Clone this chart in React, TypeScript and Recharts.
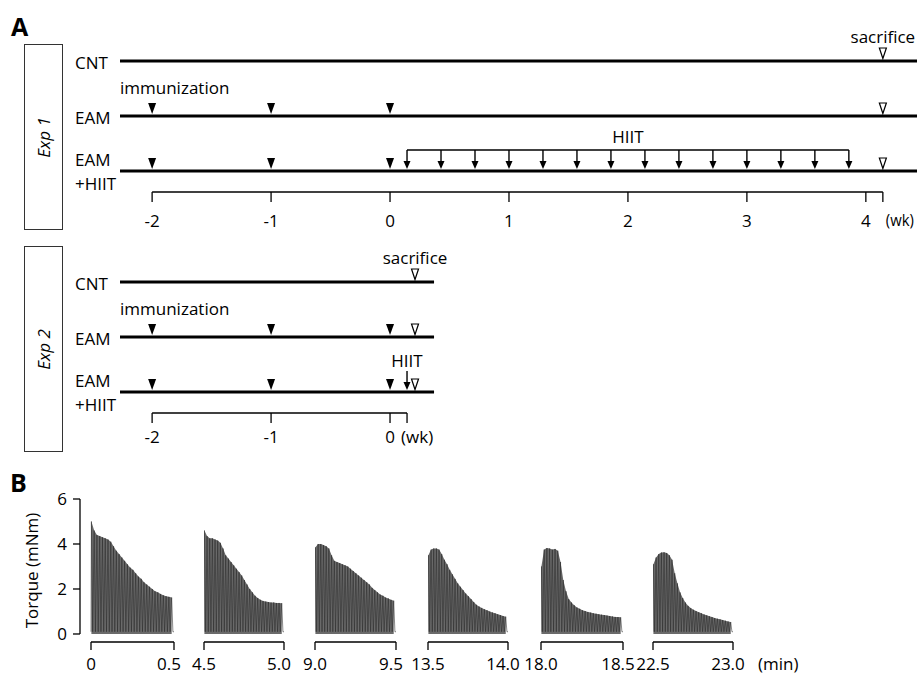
import {
  ComposedChart,
  XAxis,
  YAxis,
  Scatter,
  ReferenceLine,
  ReferenceDot,
  Area,
  Line,
} from "recharts";

const FONT = '"Open Sans", "DejaVu Sans", sans-serif';

// ---------- Panel A: protocol timelines (weeks from 3rd immunization) ----------
const rowLevels = [3, 2, 1];
const rowNames = ["CNT", "EAM", "EAM|+HIIT"];
const immunizationWeeks = [-2, -1, 0];
const immunizedRows = [2, 1];
const exp1HiitDays = [1, 3, 5, 7, 9, 11, 13, 15, 17, 19, 21, 23, 25, 27];
const exp2HiitDays = [1];
const exp1Sacrifice = 4.143;
const exp2Sacrifice = 0.21;
const exp1WeekTicks = [-2, -1, 0, 1, 2, 3, 4];
const exp2WeekTicks = [-2, -1, 0];
const exp1AxisEnd = 4.143;
const exp2AxisEnd = 0.143;
const timelineStart = -2.27;
const exp1TimelineEnd = 4.43;
const exp2TimelineEnd = 0.37;

// ---------- Panel B: torque traces, peak torque of each contraction ----------
const segmentStarts = [0, 4.5, 9.0, 13.5, 18.0, 22.5];
const torquePeaks0 = [5.0, 4.6, 4.4, 4.35, 4.3, 4.25, 4.2, 4.1, 3.9, 3.7, 3.55, 3.4, 3.25, 3.1, 2.95, 2.85, 2.7, 2.55, 2.45, 2.3, 2.2, 2.1, 2.0, 1.9, 1.85, 1.78, 1.72, 1.68, 1.65, 1.62];
const torquePeaks45 = [4.6, 4.35, 4.25, 4.25, 4.2, 4.15, 4.05, 3.8, 3.5, 3.35, 3.2, 3.05, 2.9, 2.75, 2.6, 2.4, 2.2, 2.0, 1.85, 1.7, 1.6, 1.52, 1.47, 1.44, 1.42, 1.4, 1.4, 1.38, 1.38, 1.37];
const torquePeaks90 = [3.85, 4.0, 4.0, 3.95, 3.9, 3.8, 3.5, 3.25, 3.2, 3.15, 3.1, 3.05, 3.0, 2.9, 2.8, 2.7, 2.6, 2.5, 2.4, 2.3, 2.2, 2.05, 1.95, 1.85, 1.75, 1.7, 1.62, 1.58, 1.52, 1.48];
const torquePeaks135 = [3.5, 3.75, 3.8, 3.8, 3.75, 3.55, 3.3, 3.1, 2.85, 2.65, 2.45, 2.25, 2.1, 1.95, 1.8, 1.68, 1.55, 1.42, 1.3, 1.22, 1.16, 1.1, 1.05, 1.0, 0.96, 0.92, 0.88, 0.84, 0.8, 0.77];
const torquePeaks180 = [3.0, 3.75, 3.82, 3.8, 3.75, 3.78, 3.7, 3.2, 2.4, 1.9, 1.55, 1.4, 1.28, 1.18, 1.12, 1.06, 1.02, 0.98, 0.95, 0.92, 0.9, 0.88, 0.86, 0.84, 0.82, 0.8, 0.78, 0.76, 0.75, 0.74];
const torquePeaks225 = [3.1, 3.4, 3.55, 3.62, 3.63, 3.6, 3.5, 3.3, 2.7, 2.25, 1.85, 1.6, 1.4, 1.25, 1.15, 1.08, 1.02, 0.97, 0.92, 0.87, 0.83, 0.79, 0.75, 0.71, 0.68, 0.65, 0.62, 0.59, 0.56, 0.53];
const torqueSegments = [torquePeaks0, torquePeaks45, torquePeaks90, torquePeaks135, torquePeaks180, torquePeaks225];
const troughTorque = 0.1;
const torqueTicks = [0, 2, 4, 6];

// layout of the six trace windows (px)
const segmentLeft = [91, 204, 315, 428, 541, 653];
const segmentWidth = [83, 80, 81, 80, 82, 80];
const labelShiftStart = [0, -13, -6, 0, 5, 10];
const labelShiftEnd = [-9, -5, -10, -3, 0, -1];
const yAxisGap = 11;
const Y_MIN = -0.356;

const FilledTriangle = ({ cx, cy }: any) => (
  <polygon points={`${cx - 4},${cy - 13} ${cx + 4},${cy - 13} ${cx},${cy - 2}`} fill="#000" />
);

const OpenTriangle = ({ cx, cy }: any) => (
  <polygon
    points={`${cx - 3.5},${cy - 13} ${cx + 3.5},${cy - 13} ${cx},${cy - 2.5}`}
    fill="#fff"
    stroke="#000"
    strokeWidth={1.2}
  />
);

const DownArrow = ({ cx, cy }: any) => (
  <g>
    <line x1={cx} x2={cx} y1={cy - 21} y2={cy - 9} stroke="#000" strokeWidth={1.4} />
    <polygon points={`${cx - 3.5},${cy - 10} ${cx + 3.5},${cy - 10} ${cx},${cy - 2}`} fill="#000" />
  </g>
);

const RowTick = (props: any) => {
  const { x, y, payload } = props;
  const name = rowNames[rowLevels.indexOf(payload.value)] || "";
  const lines = name.split("|");
  const style = { fontSize: 17, fontFamily: FONT, fill: "#000" };
  if (lines.length === 1) {
    return (
      <text x={x - 45} y={y + 8} {...style}>
        {name}
      </text>
    );
  }
  return (
    <g>
      <text x={x - 45} y={y - 5} {...style}>
        {lines[0]}
      </text>
      <text x={x - 45} y={y + 19} {...style}>
        {lines[1]}
      </text>
    </g>
  );
};

const WeekTick = (props: any) => {
  const { x, y, payload, wkValue, wkDx, wkLength } = props;
  const isWk = payload.value === wkValue;
  return (
    <text
      x={isWk ? x + wkDx : x}
      y={y}
      dy="0.71em"
      textAnchor={isWk ? "start" : "middle"}
      fontSize={isWk && wkLength ? 16 : 17}
      fontFamily={FONT}
      fill="#000"
      {...(isWk && wkLength ? { textLength: wkLength, lengthAdjust: "spacingAndGlyphs" } : {})}
    >
      {isWk ? "(wk)" : payload.value}
    </text>
  );
};

function Timeline({ top, hiitDays, sacrifice, weekTicks, axisEnd, lineEnd, wkDx, wkLength, tickMargin, bracket }: any) {
  const immunized = immunizedRows.flatMap((r) => immunizationWeeks.map((w) => ({ x: w, y: r })));
  const sacrificed = rowLevels.map((r) => ({ x: sacrifice, y: r }));
  const hiit = hiitDays.map((d: number) => ({ x: d / 7, y: 1 }));
  const textProps = { fontSize: 17, fontFamily: FONT, fill: "#000" };
  return (
    <div style={{ position: "absolute", left: 0, top }}>
      <ComposedChart width={917} height={237} margin={{ top: 22, right: 0, bottom: 0, left: 0 }}>
        <XAxis
          type="number"
          dataKey="x"
          domain={[timelineStart, exp1TimelineEnd]}
          allowDataOverflow
          ticks={[...weekTicks, axisEnd]}
          interval={0}
          height={45}
          tickSize={10}
          tickMargin={tickMargin}
          axisLine={false}
          tickLine={{ stroke: "#000", strokeWidth: 1.3 }}
          tick={<WeekTick wkValue={axisEnd} wkDx={wkDx} wkLength={wkLength} />}
        />
        <YAxis
          type="number"
          dataKey="y"
          domain={[0.618, 3.709]}
          allowDataOverflow
          ticks={rowLevels}
          interval={0}
          width={120}
          axisLine={false}
          tickLine={false}
          tickSize={0}
          tickMargin={0}
          tick={<RowTick />}
        />
        {rowLevels.map((r) => (
          <ReferenceLine
            key={r}
            segment={[{ x: timelineStart, y: r }, { x: lineEnd, y: r }]}
            stroke="#000"
            strokeWidth={3}
            ifOverflow="visible"
          />
        ))}
        <ReferenceLine
          segment={[{ x: weekTicks[0], y: 0.618 }, { x: axisEnd, y: 0.618 }]}
          stroke="#000"
          strokeWidth={1.3}
          ifOverflow="visible"
        />
        {bracket ? (
          <ReferenceLine
            segment={[{ x: hiitDays[0] / 7, y: 1.382 }, { x: hiitDays[hiitDays.length - 1] / 7, y: 1.382 }]}
            stroke="#000"
            strokeWidth={1.4}
            ifOverflow="visible"
            label={{ value: "HIIT", position: "top", offset: 7, ...textProps }}
          />
        ) : (
          <ReferenceDot
            x={hiitDays[0] / 7}
            y={1}
            r={0}
            stroke="none"
            ifOverflow="visible"
            label={{ value: "HIIT", position: "top", offset: 25, ...textProps }}
          />
        )}
        <ReferenceDot
          x={sacrifice}
          y={3}
          r={0}
          stroke="none"
          ifOverflow="visible"
          label={{ value: "sacrifice", position: "top", offset: 18, ...textProps }}
        />
        <ReferenceDot
          x={timelineStart}
          y={2}
          r={0}
          stroke="none"
          ifOverflow="visible"
          label={(p: any) => (
            <text x={p.viewBox.x} y={p.viewBox.y - 22} {...textProps}>
              immunization
            </text>
          )}
        />
        <Scatter data={immunized} shape={FilledTriangle} isAnimationActive={false} />
        <Scatter data={sacrificed} shape={OpenTriangle} isAnimationActive={false} />
        <Scatter data={hiit} shape={DownArrow} isAnimationActive={false} />
      </ComposedChart>
    </div>
  );
}

function buildTrace(start: number, peaks: number[]) {
  const dt = 0.5 / peaks.length;
  const rows: { t: number; v: number; env?: number }[] = [{ t: start, v: troughTorque }];
  peaks.forEach((p, i) => {
    rows.push({ t: start + (i + 0.15) * dt, v: p, env: p });
    rows.push({ t: start + (i + 0.6) * dt, v: troughTorque });
  });
  rows.push({ t: start + 0.5, v: troughTorque });
  return rows;
}

const MinuteTick = (props: any) => {
  const { x, y, payload, start, index } = props;
  const isStart = payload.value === start;
  const shift = isStart ? labelShiftStart[index] : labelShiftEnd[index];
  const v = payload.value;
  return (
    <text x={x + shift} y={y} dy="0.71em" textAnchor="middle" fontSize={17} fontFamily={FONT} fill="#000">
      {v === 0 ? "0" : v.toFixed(1)}
    </text>
  );
};

function TorqueSegment({ index }: { index: number }) {
  const start = segmentStarts[index];
  const rows = buildTrace(start, torqueSegments[index]);
  const first = index === 0;
  const last = index === segmentStarts.length - 1;
  const yAxisWidth = 80;
  const padL = first ? yAxisWidth : 18;
  const padR = last ? 80 : 18;
  const plotWidth = segmentWidth[index] + (first ? yAxisGap : 0);
  const domainStart = first ? start - (0.5 * yAxisGap) / segmentWidth[index] : start;
  const chartLeft = first ? 0 : segmentLeft[index] - padL;
  const axisStyle = { stroke: "#000", strokeWidth: 1.3 };
  return (
    <div style={{ position: "absolute", left: chartLeft, top: 479 }}>
      <ComposedChart
        width={padL + plotWidth + padR}
        height={195}
        data={rows}
        margin={{ top: 20, right: padR, bottom: 0, left: first ? 0 : padL }}
      >
        <XAxis
          type="number"
          dataKey="t"
          domain={[domainStart, start + 0.5]}
          allowDataOverflow
          ticks={[start, start + 0.5]}
          interval={0}
          height={32}
          tickSize={8}
          tickMargin={8}
          axisLine={false}
          tickLine={axisStyle}
          tick={<MinuteTick start={start} index={index} />}
          label={
            last
              ? (p: any) => (
                  <text
                    x={p.viewBox.x + p.viewBox.width + 25}
                    y={p.viewBox.y + 28}
                    fontSize={17}
                    fontFamily={FONT}
                    fill="#000"
                  >
                    (min)
                  </text>
                )
              : undefined
          }
        />
        <YAxis
          hide={!first}
          type="number"
          domain={[Y_MIN, 6]}
          allowDataOverflow
          ticks={torqueTicks}
          interval={0}
          width={yAxisWidth}
          tickSize={7}
          tickMargin={6}
          axisLine={{ ...axisStyle, strokeDasharray: "135 60" }}
          tickLine={axisStyle}
          tick={{ fontSize: 17, fill: "#000", fontFamily: FONT }}
          label={{
            value: "Torque (mNm)",
            angle: -90,
            position: "insideLeft",
            offset: 32,
            style: { textAnchor: "middle" },
            fontSize: 17,
            fontFamily: FONT,
            fill: "#000",
          }}
        />
        <ReferenceLine
          segment={[{ x: start, y: Y_MIN }, { x: start + 0.5, y: Y_MIN }]}
          stroke="#000"
          strokeWidth={1.3}
          ifOverflow="visible"
        />
        <Area
          type="linear"
          dataKey="env"
          connectNulls
          fill="#6a6a6a"
          fillOpacity={1}
          stroke="none"
          isAnimationActive={false}
        />
        <Line
          type="linear"
          dataKey="v"
          stroke="#2a2a2a"
          strokeWidth={0.55}
          dot={false}
          isAnimationActive={false}
        />
      </ComposedChart>
    </div>
  );
}

const boxStyle = (top: number, height: number): any => ({
  position: "absolute",
  left: 24,
  top,
  width: 37,
  height,
  border: "1.5px solid #333",
  display: "flex",
  alignItems: "center",
  justifyContent: "center",
});

export default function App() {
  return (
    <div
      style={{
        position: "absolute",
        left: 0,
        top: 0,
        width: 917,
        height: 674,
        background: "#fff",
        fontFamily: FONT,
        overflow: "hidden",
      }}
    >
      <div style={{ position: "absolute", left: 11, top: 9, fontSize: 25, fontWeight: 700 }}>A</div>
      <div style={{ position: "absolute", left: 10, top: 465, fontSize: 25, fontWeight: 700 }}>B</div>

      <div style={boxStyle(44, 184)}>
        <div style={{ transform: "rotate(-90deg)", fontStyle: "italic", fontSize: 17, whiteSpace: "nowrap" }}>
          Exp 1
        </div>
      </div>
      <div style={boxStyle(246, 204)}>
        <div style={{ transform: "rotate(-90deg)", fontStyle: "italic", fontSize: 17, whiteSpace: "nowrap" }}>
          Exp 2
        </div>
      </div>

      <Timeline
        top={0}
        hiitDays={exp1HiitDays}
        sacrifice={exp1Sacrifice}
        weekTicks={exp1WeekTicks}
        axisEnd={exp1AxisEnd}
        lineEnd={exp1TimelineEnd}
        wkDx={3}
        wkLength={28}
        tickMargin={13}
        bracket
      />
      <Timeline
        top={221}
        hiitDays={exp2HiitDays}
        sacrifice={exp2Sacrifice}
        weekTicks={exp2WeekTicks}
        axisEnd={exp2AxisEnd}
        lineEnd={exp2TimelineEnd}
        wkDx={-6}
        tickMargin={8}
        bracket={false}
      />

      {segmentStarts.map((s, i) => (
        <TorqueSegment key={s} index={i} />
      ))}
    </div>
  );
}
